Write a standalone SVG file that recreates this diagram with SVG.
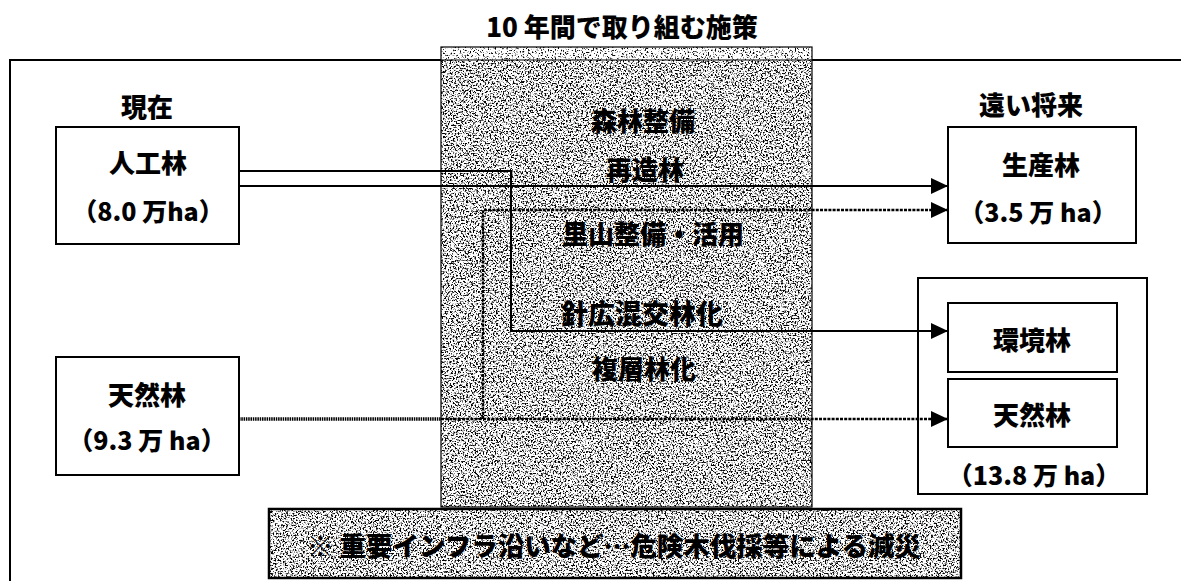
<svg xmlns="http://www.w3.org/2000/svg" width="1181" height="581" viewBox="0 0 1181 581">
<defs>
<style>
.t{font-family:"Noto Sans CJK JP","Noto Sans CJK SC",sans-serif;font-weight:900;fill:#000;text-anchor:middle}
.box{fill:#fff;stroke:#000;stroke-width:2}
.ln{fill:none;stroke:#000;stroke-width:2}
.dot{fill:none;stroke:#000;stroke-width:2.4;stroke-dasharray:3 1.2}
.wavy{fill:none;stroke:#000;stroke-width:3.5;stroke-dasharray:1.5 0.8}
</style>
<marker id="ah" markerUnits="userSpaceOnUse" markerWidth="18" markerHeight="18" refX="17" refY="8" orient="auto">
<path d="M0,0 L17,8 L0,16 Z" fill="#000"/>
</marker>
<filter id="grain" x="0" y="0" width="1" height="1">
<feTurbulence type="fractalNoise" baseFrequency="0.6" numOctaves="2" seed="7" result="t"/>
<feColorMatrix in="t" type="matrix" values="0 0 0 0 0  0 0 0 0 0  0 0 0 0 0  6 0 0 0 -2.95" result="a"/>
<feComposite in="a" in2="SourceGraphic" operator="in"/>
</filter>
<filter id="grainL" x="0" y="0" width="1" height="1">
<feTurbulence type="fractalNoise" baseFrequency="0.6" numOctaves="2" seed="3" result="t"/>
<feColorMatrix in="t" type="matrix" values="0 0 0 0 0  0 0 0 0 0  0 0 0 0 0  6 0 0 0 -3.3" result="a"/>
<feComposite in="a" in2="SourceGraphic" operator="in"/>
</filter>
</defs>
<rect x="0" y="0" width="1181" height="581" fill="#fff"/>

<g id="frame">
<path class="ln" d="M10,581 V60 H1181"/>
</g>

<g id="measures">
<rect x="441" y="47" width="371" height="460" fill="#fff"/>
<rect x="441" y="47" width="371" height="13" fill="#000" filter="url(#grainL)"/>
<rect x="441" y="60" width="371" height="447" fill="#000" filter="url(#grain)"/>
<rect x="441" y="47" width="371" height="460" fill="none" stroke="#000" stroke-width="1.2"/>
<line x1="441" y1="60" x2="812" y2="60" stroke="#000" stroke-width="1"/>
<text class="t" x="622" y="37" font-size="26">10 年間で取り組む施策</text>
<text class="t" x="643" y="131" font-size="26">森林整備</text>
<text class="t" x="645" y="180" font-size="26">再造林</text>
<text class="t" x="653" y="244" font-size="26">里山整備・活用</text>
<text class="t" x="642" y="324" font-size="27">針広混交林化</text>
<text class="t" x="644" y="379" font-size="26">複層林化</text>
</g>

<g id="genzai">
<text class="t" x="147" y="117" font-size="26">現在</text>
</g>

<g id="jinkourin">
<rect class="box" x="56" y="127" width="183" height="117"/>
<text class="t" x="148" y="173" font-size="26">人工林</text>
<text class="t" x="148" y="221" font-size="25">（8.0 万ha）</text>
</g>

<g id="tennenrin-now">
<rect class="box" x="56" y="357" width="183" height="118"/>
<text class="t" x="147" y="405" font-size="26">天然林</text>
<text class="t" x="147" y="450" font-size="25">（9.3 万 ha）</text>
</g>

<g id="future-label">
<text class="t" x="1031" y="115" font-size="26">遠い将来</text>
</g>

<g id="seisanrin">
<rect class="box" x="948" y="127" width="188" height="116"/>
<text class="t" x="1041" y="175" font-size="26">生産林</text>
<text class="t" x="1038" y="222" font-size="25">（3.5 万 ha）</text>
</g>

<g id="env-group">
<rect class="box" x="918" y="278" width="229" height="216"/>
<text class="t" x="1034" y="485" font-size="25">（13.8 万 ha）</text>
</g>

<g id="kankyourin">
<rect class="box" x="948" y="303" width="169" height="69"/>
<text class="t" x="1032" y="350" font-size="26">環境林</text>
</g>

<g id="tennenrin-future">
<rect class="box" x="948" y="379" width="169" height="68"/>
<text class="t" x="1032" y="425" font-size="26">天然林</text>
</g>

<g id="connectors">
<path class="ln" d="M239,171 H511 V331 H948" marker-end="url(#ah)"/>
<path class="ln" d="M239,186 H948" marker-end="url(#ah)"/>
<path class="wavy" d="M239,419 H441"/>
<path class="dot" d="M441,419 H483 V210 H948" marker-end="url(#ah)"/>
<path class="dot" d="M483,419 H948" marker-end="url(#ah)"/>
</g>

<g id="disaster">
<rect x="269" y="509" width="692" height="69" fill="#fff"/>
<rect x="269" y="509" width="692" height="69" fill="#000" filter="url(#grain)"/>
<rect x="269" y="509" width="692" height="69" fill="none" stroke="#000" stroke-width="2.5"/>
<text class="t" x="614" y="556" font-size="26.5">※ 重要インフラ沿いなど…危険木伐採等による減災</text>
</g>
</svg>
